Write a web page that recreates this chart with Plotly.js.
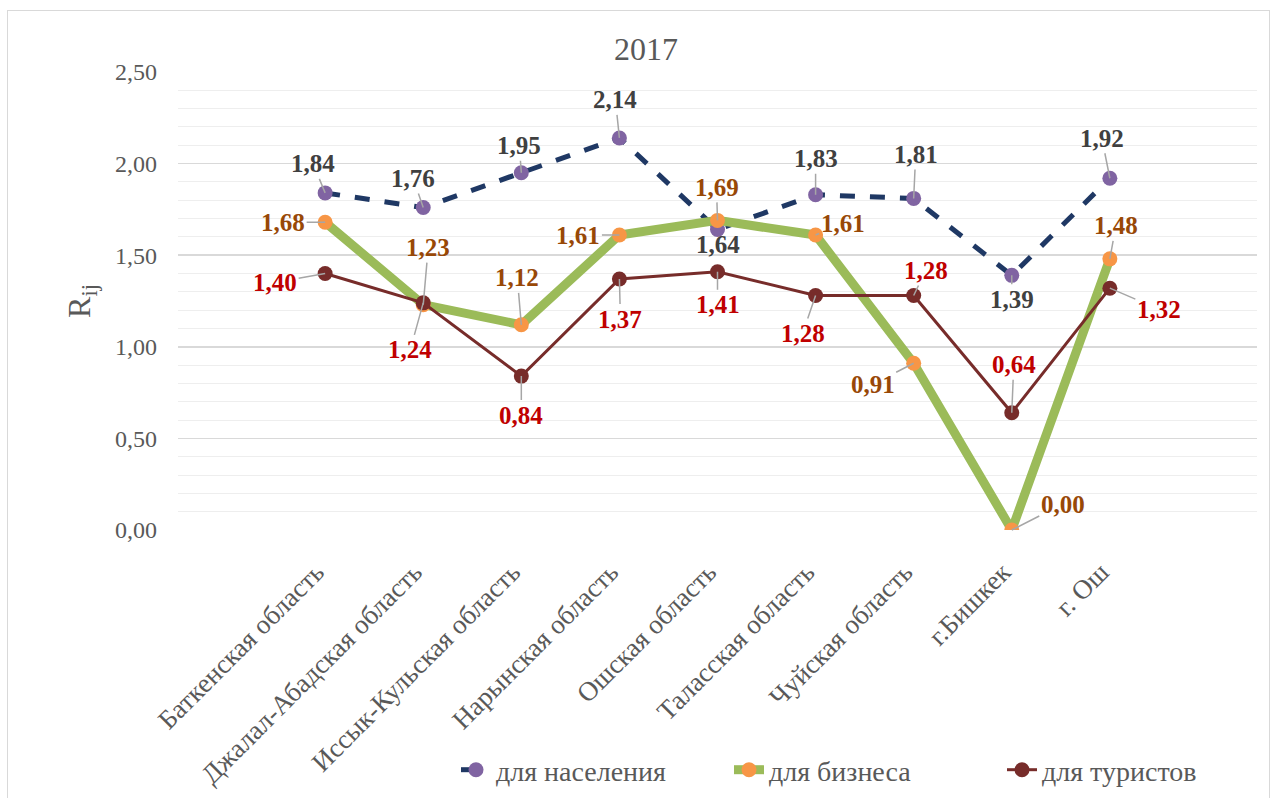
<!DOCTYPE html>
<html>
<head>
<meta charset="utf-8">
<script src="https://cdn.plot.ly/plotly-3.0.1.min.js"></script>
<style>
html,body{margin:0;padding:0;background:#fff;}
#frame{position:absolute;left:7px;top:10px;width:1263px;height:800px;border:1px solid #d9d9d9;box-sizing:border-box;}
#chart{position:absolute;left:0;top:0;width:1277px;height:798px;}
</style>
</head>
<body>
<div id="frame"></div>
<div id="chart"></div>
<script>
const categories = ["Баткенская область","Джалал-Абадская область","Иссык-Кульская область","Нарынская область","Ошская область","Таласская область","Чуйская область","г.Бишкек","г. Ош"];
const seriesNames = ["для населения","для бизнеса","для туристов"];
const population = [1.84,1.76,1.95,2.14,1.64,1.83,1.81,1.39,1.92];
const business   = [1.68,1.23,1.12,1.61,1.69,1.61,0.91,0.00,1.48];
const tourists   = [1.40,1.24,0.84,1.37,1.41,1.28,1.28,0.64,1.32];
const yTickVals = [0,0.5,1,1.5,2,2.5];
const titleText = "2017";

const xIdx = categories.map((c,i)=>i);
const FONT = "Liberation Serif";

// label offsets (pixels) for each series
const popOff = [[-12,-29],[-10,-29],[-2,-27],[-4,-38],[0,15],[0,-36],[2,-44],[0,24],[-8,-40]];
const busOff = [[-42,0],[5,-57],[-4,-47],[-41,0],[-1,-33],[27,-12],[-41,21],[51,-26],[6,-33]];
const touOff = [[-50,9],[-13,47],[0,39],[1,40],[0,33],[-13,38],[12,-25],[2,-48],[49,21]];

const fmt = v => v.toFixed(2).replace('.', ',');

function makeAnn(vals, offs, color){
  return vals.map((v,i)=>({
    x: xIdx[i], y: v, xref:'x', yref:'y',
    text: fmt(v),
    showarrow: true, arrowhead: 0, arrowwidth: 1.5, arrowcolor: '#a6a6a6',
    ax: offs[i][0], ay: offs[i][1], standoff: 0, startstandoff: 0,
    font: {family: FONT, size: 25, color: color, weight: 'bold'}
  }));
}

const traces = [
  {x: xIdx, y: population, name: seriesNames[0], type:'scatter', mode:'lines+markers',
   line:{color:'#1f3864', width:5, dash:'dash'}, marker:{color:'#8064a2', size:15}},
  {x: xIdx, y: business, name: seriesNames[1], type:'scatter', mode:'lines+markers',
   line:{color:'#9bbb59', width:9}, marker:{color:'#f79646', size:15}},
  {x: xIdx, y: tourists, name: seriesNames[2], type:'scatter', mode:'lines+markers',
   line:{color:'#772c2a', width:3}, marker:{color:'#772c2a', size:15}}
];

const layout = {
  width: 1277, height: 798,
  paper_bgcolor:'rgba(0,0,0,0)', plot_bgcolor:'rgba(0,0,0,0)',
  separators: ', ',
  margin:{l:178, r:20, t:72, b:268, autoexpand:false},
  title:{text:titleText, x:646/1277, xref:'container', xanchor:'center', y:1-49/798, yanchor:'middle',
         font:{family:FONT, size:32, color:'#595959'}},
  xaxis:{range:[-1.5,9.5], tickvals:xIdx, ticktext:categories, tickangle:-45,
         showgrid:false, zeroline:false, showline:false, ticks:'', ticklabelstandoff:20, ticklabelshift:-9,
         tickfont:{family:FONT, size:27, color:'#595959'}, fixedrange:true},
  yaxis:{range:[0,2.5], tickvals:yTickVals, tickformat:'.2f', showgrid:true,
         gridcolor:'#d9d9d9', gridwidth:1.5, zeroline:false, showline:false, ticks:'',
         ticklabelstandoff:20,
         minor:{dtick:0.1, showgrid:true, gridcolor:'#eeeeee', gridwidth:1},
         tickfont:{family:FONT, size:24, color:'#595959'},
         title:{text:'R<sub>ij</sub>', standoff:14, font:{family:FONT, size:32, color:'#595959'}}},
  showlegend:true,
  legend:{orientation:'h', x:(456-178)/1079, xanchor:'left', y:(530-770)/458, yanchor:'middle',
          font:{family:FONT, size:28, color:'#595959'}, bgcolor:'rgba(0,0,0,0)',
          entrywidth:228, traceorder:'normal'},
  annotations: [].concat(
    makeAnn(population, popOff, '#404040'),
    makeAnn(business, busOff, '#984807'),
    makeAnn(tourists, touOff, '#c00000')
  )
};

Plotly.newPlot('chart', traces, layout, {displayModeBar:false, staticPlot:true});
</script>
</body>
</html>
